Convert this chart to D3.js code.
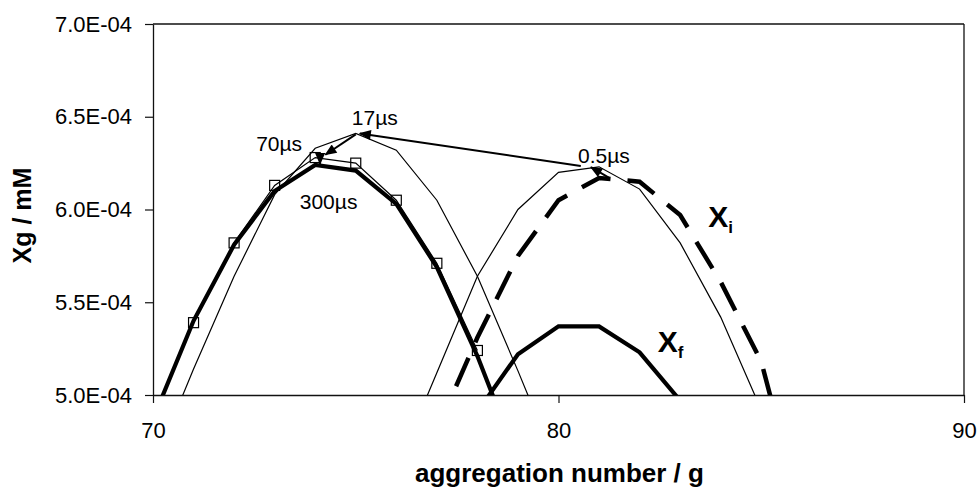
<!DOCTYPE html>
<html>
<head>
<meta charset="utf-8">
<script src="https://cdn.jsdelivr.net/npm/d3@7"></script>
<style>
  html, body { margin: 0; padding: 0; background: #fff; }
  svg { display: block; }
  text { font-family: Arial, "Liberation Sans", Helvetica, sans-serif; fill: #000; }
</style>
</head>
<body>
<svg id="chart" width="979" height="488"></svg>
<script>
// Aggregation-number distributions X_g at successive times
const gInit   = [77, 78, 79, 80, 81, 82, 83, 84, 85, 86];
const xInit   = [4.81e-4, 5.31e-4, 5.75e-4, 6.05e-4, 6.17e-4, 6.15e-4, 5.97e-4, 5.61e-4, 5.18e-4, 4.35e-4];

const gFinal  = [78, 79, 80, 81, 82, 83];
const xFinal  = [4.91e-4, 5.22e-4, 5.37e-4, 5.37e-4, 5.23e-4, 4.97e-4];

const g05     = [76, 77, 78, 79, 80, 81, 82, 83, 84, 85];
const x05     = [4.60e-4, 5.12e-4, 5.64e-4, 6.00e-4, 6.20e-4, 6.23e-4, 6.11e-4, 5.82e-4, 5.42e-4, 4.92e-4];

const g17     = [70, 71, 72, 73, 74, 75, 76, 77, 78, 79, 80];
const x17     = [4.61e-4, 5.14e-4, 5.64e-4, 6.08e-4, 6.33e-4, 6.41e-4, 6.32e-4, 6.05e-4, 5.64e-4, 5.13e-4, 4.60e-4];

const g70     = [71, 72, 73, 74, 75, 76, 77, 78];
const x70     = [5.39e-4, 5.82e-4, 6.13e-4, 6.28e-4, 6.25e-4, 6.05e-4, 5.71e-4, 5.24e-4];

const g300    = [70, 71, 72, 73, 74, 75, 76, 77, 78, 79];
const x300    = [4.87e-4, 5.40e-4, 5.81e-4, 6.10e-4, 6.24e-4, 6.21e-4, 6.03e-4, 5.69e-4, 5.21e-4, 4.65e-4];

// Arrows tracing the peak from one time to the next: [g0, x0, g1, x1]
const arrows = [
  [81.25, 6.170e-4, 80.80, 6.228e-4],
  [80.55, 6.235e-4, 75.10, 6.410e-4],
  [75.00, 6.405e-4, 74.25, 6.295e-4],
  [74.12, 6.290e-4, 74.12, 6.245e-4]
];

// Time labels: [text, g, x]
const timeLabels = [
  ["17µs", 75.47, 6.456e-4],
  ["70µs", 73.11, 6.315e-4],
  ["300µs", 74.33, 6.003e-4],
  ["0.5µs", 81.12, 6.250e-4]
];

const xTicks = [70, 80, 90];
const yTicks = [5.0e-4, 5.5e-4, 6.0e-4, 6.5e-4, 7.0e-4];
const yTickLabels = ["5.0E-04", "5.5E-04", "6.0E-04", "6.5E-04", "7.0E-04"];

const svg = d3.select("#chart");
const plotLeft = 153, plotRight = 964, plotTop = 24, plotBottom = 395;

const x = d3.scaleLinear().domain([70, 90]).range([plotLeft, plotRight]);
const y = d3.scaleLinear().domain([5.0e-4, 7.0e-4]).range([plotBottom, plotTop]);

const defs = svg.append("defs");
defs.append("clipPath").attr("id", "plot-clip")
  .append("rect").attr("x", plotLeft).attr("y", plotTop)
  .attr("width", plotRight - plotLeft).attr("height", plotBottom - plotTop);

defs.append("marker")
  .attr("id", "head")
  .attr("markerUnits", "userSpaceOnUse")
  .attr("viewBox", "0 0 12 10")
  .attr("refX", 11).attr("refY", 5)
  .attr("markerWidth", 13).attr("markerHeight", 10)
  .attr("orient", "auto")
  .append("path").attr("d", "M0,0 L12,5 L0,10 Z").attr("fill", "#000");

// Plot frame
svg.append("line").attr("x1", plotLeft).attr("x2", plotRight).attr("y1", plotTop).attr("y2", plotTop)
  .attr("stroke", "#111").attr("stroke-width", 1.3);
svg.append("line").attr("x1", plotRight).attr("x2", plotRight).attr("y1", plotTop).attr("y2", plotBottom)
  .attr("stroke", "#111").attr("stroke-width", 1.3);

// Axes
const yAxis = d3.axisLeft(y).tickValues(yTicks).tickSize(8).tickSizeOuter(0)
  .tickPadding(13).tickFormat((d, i) => yTickLabels[i]);
const gy = svg.append("g").attr("transform", `translate(${plotLeft},0)`).call(yAxis);

const xAxis = d3.axisBottom(x).tickValues(xTicks).tickSize(8).tickSizeOuter(0)
  .tickPadding(19).tickFormat(d3.format("d"));
const gx = svg.append("g").attr("transform", `translate(0,${plotBottom})`).call(xAxis);

[gx, gy].forEach(g => {
  g.select(".domain").attr("stroke", "#111").attr("stroke-width", 1.3);
  g.selectAll(".tick line").attr("stroke", "#111").attr("stroke-width", 1.2);
  g.selectAll(".tick text").style("font-size", "22px").attr("fill", "#111");
});

// Axis titles
svg.append("text")
  .attr("x", (plotLeft + plotRight) / 2 + 1).attr("y", 482)
  .attr("text-anchor", "middle")
  .style("font-size", "26px").style("font-weight", "bold")
  .text("aggregation number / g");

svg.append("text")
  .attr("transform", `translate(31,${(plotTop + plotBottom) / 2 + 6}) rotate(-90)`)
  .attr("text-anchor", "middle")
  .style("font-size", "25px").style("font-weight", "bold")
  .text("Xg / mM");

// Series
const plot = svg.append("g").attr("clip-path", "url(#plot-clip)");
const line = d3.line().x(d => x(d[0])).y(d => y(d[1]));
const pairs = (gs, vs) => gs.map((g, i) => [g, vs[i]]);

function drawSeries(gs, vs, width, dash) {
  plot.append("path")
    .datum(pairs(gs, vs))
    .attr("d", line)
    .attr("fill", "none")
    .attr("stroke", "#000")
    .attr("stroke-width", width)
    .attr("stroke-linejoin", "miter")
    .attr("stroke-dasharray", dash || null);
}

drawSeries(g05, x05, 1.2);
drawSeries(g17, x17, 1.2);
drawSeries(g70, x70, 1.2);
drawSeries(g300, x300, 4.2);
drawSeries(gFinal, xFinal, 4.2);
drawSeries(gInit, xInit, 4.5, "31,17");

// Square markers on the 70 µs series
plot.selectAll("rect.sq")
  .data(pairs(g70, x70))
  .join("rect")
  .attr("class", "sq")
  .attr("x", d => x(d[0]) - 5).attr("y", d => y(d[1]) - 5)
  .attr("width", 10).attr("height", 10)
  .attr("fill", "none").attr("stroke", "#000").attr("stroke-width", 1.2);

// Peak-shift arrows
svg.append("g").selectAll("line")
  .data(arrows)
  .join("line")
  .attr("x1", d => x(d[0])).attr("y1", d => y(d[1]))
  .attr("x2", d => x(d[2])).attr("y2", d => y(d[3]))
  .attr("stroke", "#000").attr("stroke-width", 2)
  .attr("marker-end", "url(#head)");

// Time labels
svg.append("g").selectAll("text")
  .data(timeLabels)
  .join("text")
  .attr("x", d => x(d[1])).attr("y", d => y(d[2]))
  .attr("text-anchor", "middle")
  .style("font-size", "21px")
  .text(d => d[0]);

// Curve names
function subLabel(main, sub, g, v) {
  const t = svg.append("text")
    .attr("x", x(g)).attr("y", y(v))
    .style("font-weight", "bold");
  t.append("tspan").style("font-size", "30px").text(main);
  t.append("tspan").style("font-size", "17px").attr("dy", 6).text(sub);
}
subLabel("X", "i", 83.69, 5.906e-4);
subLabel("X", "f", 82.45, 5.232e-4);
</script>
</body>
</html>
